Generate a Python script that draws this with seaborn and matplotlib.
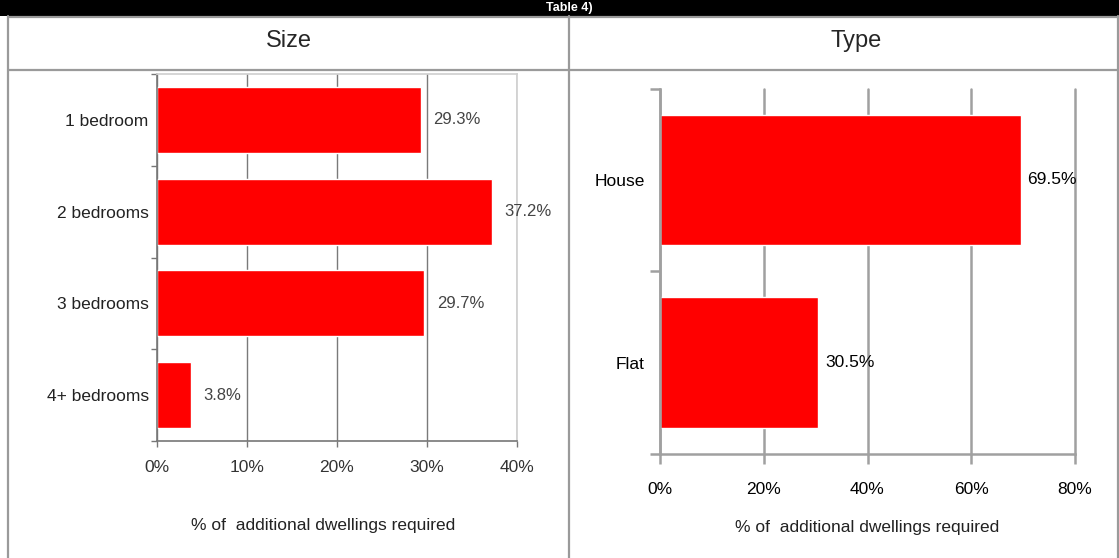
import matplotlib
matplotlib.use("Agg")
import matplotlib.pyplot as plt
import seaborn as sns
import pandas as pd
from matplotlib.lines import Line2D
from matplotlib.patches import Rectangle
from matplotlib.ticker import FixedLocator, PercentFormatter

# data
size_labels = ['1 bedroom', '2 bedrooms', '3 bedrooms', '4+ bedrooms']
size_values = [29.3, 37.2, 29.7, 3.8]
type_labels = ['House', 'Flat']
type_values = [69.5, 30.5]
size_ticks = [0, 10, 20, 30, 40]
type_ticks = [0, 20, 40, 60, 80]
xlabel_text = '% of  additional dwellings required'

sns.set_theme(style='white')
plt.rcParams['font.family'] = ['Liberation Sans', 'DejaVu Sans']

W, H = 1119, 558
fig = plt.figure(figsize=(W / 100, H / 100), dpi=100)
fig.patch.set_facecolor('white')


def px_axes(x0, y0, x1, y1):
    """axes from pixel box (top-left origin)"""
    return fig.add_axes([x0 / W, (H - y1) / H, (x1 - x0) / W, (y1 - y0) / H])


# ---- table frame ----
fig.patches.append(Rectangle((0, 1 - 16 / H), 1, 16 / H, transform=fig.transFigure,
                             facecolor='black', edgecolor='none', zorder=0))
fig.text(569 / W, 1 - 8 / H, 'Table 4)', color='white', fontsize=9, fontweight='bold',
         ha='center', va='center')
border = dict(color='#9a9a9a', lw=1.6, transform=fig.transFigure)
fig.lines.append(Line2D([8 / W, 1], [1 - 16.5 / H] * 2, **border))
fig.lines.append(Line2D([8 / W, 1], [1 - 70 / H] * 2, **border))
fig.lines.append(Line2D([8 / W] * 2, [0, 1 - 16 / H], **border))
fig.lines.append(Line2D([569 / W] * 2, [0, 1 - 16 / H], **border))
fig.lines.append(Line2D([1118 / W] * 2, [0, 1 - 16 / H], **border))
fig.text(289 / W, 1 - 41 / H, 'Size', fontsize=17, ha='center', va='center')
fig.text(856 / W, 1 - 41 / H, 'Type', fontsize=17, ha='center', va='center')

# ---- left panel: size ----
size_df = pd.DataFrame({'size': size_labels, 'pct': size_values})
ax1 = px_axes(157, 74, 517, 441)
sns.barplot(data=size_df, y='size', x='pct', orient='h', color='#ff0000',
            saturation=1, width=0.72, ax=ax1)
ax1.set_xlim(size_ticks[0], size_ticks[-1])
ax1.set_ylim(len(size_labels) - 0.5, -0.5)
ax1.xaxis.set_major_locator(FixedLocator(size_ticks))
ax1.xaxis.set_major_formatter(PercentFormatter(decimals=0))
ax1.grid(axis='x', color='#7a7a7a', lw=1.0, zorder=0)
ax1.set_axisbelow(True)
ax1.yaxis.set_minor_locator(FixedLocator([i - 0.5 for i in range(len(size_labels) + 1)]))
ax1.tick_params(axis='y', which='major', length=0, pad=6, labelsize=12.5, labelcolor='#222222')
ax1.tick_params(axis='y', which='minor', left=True, length=4, width=1, color='#777777')
ax1.tick_params(axis='x', bottom=True, length=4, width=1, color='#777777', pad=10,
                labelsize=12.5, labelcolor='#333333')
for side in ['top', 'right']:
    ax1.spines[side].set_color('#d0d0d0')
for side in ['left', 'bottom']:
    ax1.spines[side].set_color('#777777')
    ax1.spines[side].set_linewidth(1.2)
ax1.bar_label(ax1.containers[0], labels=[f'{v}%' for v in size_values], padding=9,
              fontsize=12, color='#444444')
ax1.set_ylabel('')
ax1.set_xlabel(xlabel_text, fontsize=12.5, color='#222222')
ax1.xaxis.label.set_va('center')
ax1.xaxis.set_label_coords(0.461, -0.2316)

# ---- right panel: type ----
type_df = pd.DataFrame({'type': type_labels, 'pct': type_values})
ax2 = px_axes(660, 88.6, 1075, 454)
sns.barplot(data=type_df, y='type', x='pct', orient='h', color='#ff0000',
            saturation=1, width=0.715, ax=ax2)
ax2.set_xlim(type_ticks[0], type_ticks[-1])
ax2.set_ylim(len(type_labels) - 0.5, -0.5)
ax2.xaxis.set_major_locator(FixedLocator(type_ticks))
ax2.xaxis.set_major_formatter(PercentFormatter(decimals=0))
ax2.grid(axis='x', color='#a0a0a0', lw=1.8, zorder=0)
for gl in ax2.get_xgridlines():
    gl.set_clip_on(False)
ax2.set_axisbelow(True)
ax2.yaxis.set_minor_locator(FixedLocator([i - 0.5 for i in range(len(type_labels) + 1)]))
ax2.tick_params(axis='y', which='major', length=0, pad=11, labelsize=12.5, labelcolor='black')
ax2.tick_params(axis='y', which='minor', left=True, length=7, width=1.8, color='#a0a0a0')
ax2.tick_params(axis='x', bottom=True, length=7, width=1.8, color='#a0a0a0', pad=13,
                labelsize=12.5, labelcolor='black')
for side in ['top', 'right']:
    ax2.spines[side].set_visible(False)
for side in ['left', 'bottom']:
    ax2.spines[side].set_color('#a0a0a0')
    ax2.spines[side].set_linewidth(1.8)
ax2.bar_label(ax2.containers[0], labels=[f'{v}%' for v in type_values], padding=5,
              fontsize=12.5, color='black')
ax2.set_ylabel('')
ax2.set_xlabel(xlabel_text, fontsize=12.5, color='#222222')
ax2.xaxis.label.set_va('center')
ax2.xaxis.set_label_coords(0.5, -0.1998)

fig.savefig('out.png', dpi=100, facecolor='white')
